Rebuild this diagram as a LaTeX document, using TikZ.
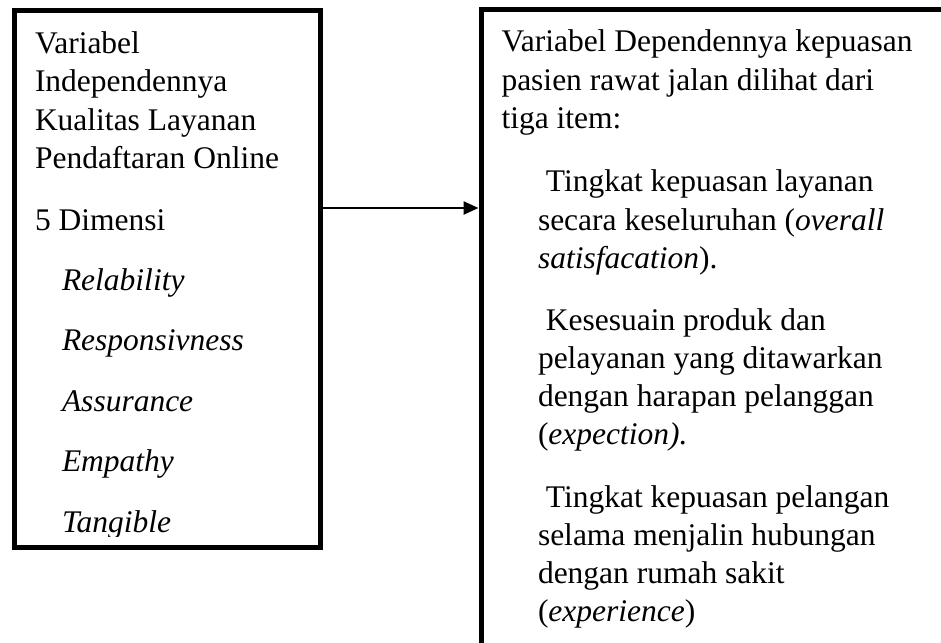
\documentclass[tikz,border=0pt]{standalone}
\usepackage{fontspec}
\setmainfont{Liberation Serif}
\usetikzlibrary{arrows.meta}
\tikzset{
  framebox/.style={draw=black, line width=5pt, rectangle, outer sep=0pt, inner sep=0pt, anchor=north west},
  txt/.style={anchor=base west, inner sep=0pt, outer sep=0pt, font=\fontsize{31.5}{38}\selectfont},
  conn/.style={line width=2.5pt, -{Triangle[length=15pt,width=13pt]}}
}
\begin{document}
\begin{tikzpicture}[x=1pt,y=-1pt]
\useasboundingbox (0,0) rectangle (941,642);
\begin{scope}
\clip (0,0) rectangle (941,642);
\node[framebox, minimum width=306.5pt, minimum height=536.5pt] (L) at (14,11) {};
\node[framebox, minimum width=520pt, minimum height=700pt] (R) at (481,10) {};
\end{scope}
% left text
\begin{scope}
\clip (14,11) rectangle (320,536);
\node[txt] (l1) at (35,53) {Variabel};
\node[txt] (l2) at (35,91.5) {Independennya};
\node[txt] (l3) at (35,130) {Kualitas Layanan};
\node[txt] (l4) at (35,168) {Pendaftaran Online};
\node[txt] (l5) at (35,230) {5 Dimensi};
\node[txt] (l6) at (62,290) {\textit{Relability}};
\node[txt] (l7) at (62,350.5) {\textit{Responsivness}};
\node[txt] (l8) at (62,411) {\textit{Assurance}};
\node[txt] (l9) at (62,471.5) {\textit{Empathy}};
\node[txt] (l10) at (62,532) {\textit{Tangible}};
\end{scope}
% right text
\begin{scope}
\clip (481,10) rectangle (941,642);
\node[txt] (r1) at (501.5,52) {Variabel Dependennya kepuasan};
\node[txt] (r2) at (501.5,90.3) {pasien rawat jalan dilihat dari};
\node[txt] (r3) at (501.5,128.6) {tiga item:};
\node[txt] (r4) at (538,191.7) {\ Tingkat kepuasan layanan};
\node[txt] (r5) at (538,230) {secara keseluruhan (\textit{overall}};
\node[txt] (r6) at (538,268.3) {\textit{satisfacation}).};
\node[txt] (r7) at (538,330) {\ Kesesuain produk dan};
\node[txt] (r8) at (538,368.3) {pelayanan yang ditawarkan};
\node[txt] (r9) at (538,406.6) {dengan harapan pelanggan};
\node[txt] (r10) at (538,444.9) {(\textit{expection).}};
\node[txt] (r11) at (538,507) {\ Tingkat kepuasan pelangan};
\node[txt] (r12) at (538,545.3) {selama menjalin hubungan};
\node[txt] (r13) at (538,583.6) {dengan rumah sakit};
\node[txt] (r14) at (538,621.9) {(\textit{experience})};
\end{scope}
% connector
\path (L.north east) ++(0,197) coordinate (as);
\draw[conn, shorten >=2.5pt] (as) -- (as -| R.west);
\end{tikzpicture}
\end{document}
